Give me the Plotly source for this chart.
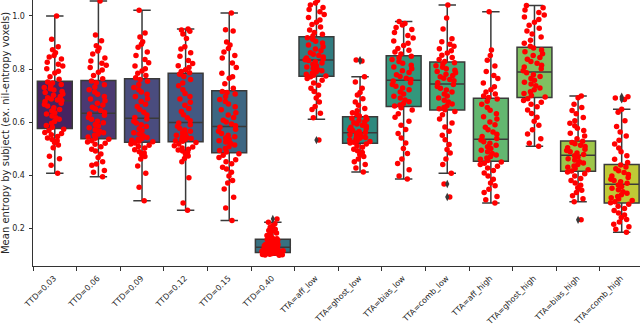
import colorsys
import plotly.graph_objects as go

categories = ["TTD=0.03", "TTD=0.06", "TTD=0.09", "TTD=0.12", "TTD=0.15", "TTD=0.40",
              "TTA=aff_low", "TTA=ghost_low", "TTA=bias_low", "TTA=comb_low",
              "TTA=aff_high", "TTA=ghost_high", "TTA=bias_high", "TTA=comb_high"]

# box statistics
q1 = [0.577, 0.538, 0.525, 0.527, 0.485, 0.110, 0.773, 0.521, 0.659, 0.646, 0.453, 0.693, 0.416, 0.296]
median = [0.681, 0.634, 0.615, 0.599, 0.584, 0.130, 0.834, 0.561, 0.758, 0.744, 0.536, 0.789, 0.476, 0.367]
q3 = [0.754, 0.757, 0.764, 0.784, 0.719, 0.160, 0.922, 0.621, 0.850, 0.827, 0.690, 0.882, 0.530, 0.441]
lowerfence = [0.408, 0.395, 0.305, 0.269, 0.231, 0.100, 0.611, 0.413, 0.387, 0.408, 0.296, 0.510, 0.301, 0.186]
upperfence = [1.000, 1.056, 1.021, 0.951, 1.011, 0.224, 1.080, 0.771, 0.979, 1.041, 1.016, 1.039, 0.699, 0.649]

# per-subject values (red dots)
ttd_003 = [1.00, 0.912, 0.884, 0.873, 0.862, 0.851, 0.846, 0.838, 0.826, 0.818, 0.812, 0.801, 0.792, 0.785, 0.771, 0.762,
           0.752, 0.748, 0.742, 0.737, 0.731, 0.726, 0.721, 0.716, 0.712, 0.706, 0.702, 0.697, 0.692, 0.688, 0.684, 0.682,
           0.678, 0.672, 0.667, 0.661, 0.655, 0.648, 0.642, 0.636, 0.631, 0.624, 0.617, 0.611, 0.603, 0.596, 0.588, 0.581,
           0.574, 0.569, 0.562, 0.558, 0.553, 0.547, 0.541, 0.535, 0.531, 0.524, 0.515, 0.504, 0.472, 0.463, 0.438, 0.408]
ttd_006 = [1.056, 0.928, 0.907, 0.888, 0.879, 0.868, 0.857, 0.842, 0.831, 0.822, 0.815, 0.806, 0.797, 0.788, 0.776, 0.764,
           0.755, 0.749, 0.741, 0.733, 0.722, 0.714, 0.705, 0.697, 0.688, 0.681, 0.672, 0.665, 0.657, 0.651, 0.644, 0.637,
           0.631, 0.626, 0.618, 0.611, 0.604, 0.598, 0.592, 0.586, 0.579, 0.572, 0.566, 0.561, 0.556, 0.551, 0.545, 0.540,
           0.536, 0.531, 0.526, 0.521, 0.517, 0.508, 0.499, 0.492, 0.481, 0.468, 0.452, 0.443, 0.438, 0.419, 0.412, 0.395]
ttd_009 = [1.021, 0.936, 0.921, 0.903, 0.894, 0.882, 0.864, 0.851, 0.836, 0.824, 0.812, 0.801, 0.793, 0.784, 0.776, 0.768,
           0.761, 0.754, 0.742, 0.731, 0.722, 0.714, 0.705, 0.697, 0.689, 0.678, 0.668, 0.659, 0.648, 0.638, 0.627, 0.618,
           0.612, 0.604, 0.597, 0.591, 0.584, 0.576, 0.569, 0.561, 0.556, 0.549, 0.543, 0.538, 0.535, 0.532, 0.529, 0.527,
           0.522, 0.518, 0.514, 0.509, 0.503, 0.497, 0.489, 0.484, 0.478, 0.471, 0.462, 0.436, 0.408, 0.356, 0.305]
ttd_012 = [0.951, 0.947, 0.942, 0.932, 0.915, 0.884, 0.876, 0.862, 0.848, 0.832, 0.821, 0.813, 0.806, 0.798, 0.791, 0.786,
           0.781, 0.772, 0.761, 0.748, 0.737, 0.722, 0.708, 0.697, 0.688, 0.675, 0.664, 0.652, 0.641, 0.628, 0.617, 0.606,
           0.597, 0.591, 0.585, 0.578, 0.571, 0.566, 0.561, 0.555, 0.551, 0.547, 0.543, 0.539, 0.536, 0.533, 0.531, 0.529,
           0.524, 0.518, 0.512, 0.507, 0.503, 0.499, 0.496, 0.492, 0.487, 0.481, 0.473, 0.464, 0.452, 0.391, 0.296, 0.269]
ttd_015 = [1.011, 0.948, 0.943, 0.902, 0.891, 0.878, 0.864, 0.851, 0.842, 0.823, 0.806, 0.784, 0.771, 0.766, 0.745, 0.728,
           0.716, 0.712, 0.706, 0.697, 0.686, 0.678, 0.669, 0.658, 0.647, 0.636, 0.627, 0.618, 0.608, 0.601, 0.594, 0.587,
           0.581, 0.574, 0.566, 0.558, 0.551, 0.546, 0.541, 0.536, 0.531, 0.526, 0.521, 0.515, 0.508, 0.501, 0.494, 0.488,
           0.482, 0.476, 0.468, 0.459, 0.452, 0.444, 0.431, 0.424, 0.412, 0.398, 0.381, 0.372, 0.349, 0.318, 0.278, 0.231]
ttd_040 = [0.236, 0.224, 0.218, 0.212, 0.205, 0.198, 0.193, 0.189, 0.184, 0.179, 0.174, 0.169, 0.165, 0.162,
           0.159, 0.156, 0.153, 0.151, 0.148, 0.146, 0.144, 0.142, 0.140, 0.138, 0.136, 0.134, 0.132, 0.131,
           0.129, 0.128, 0.126, 0.125, 0.124, 0.122, 0.121, 0.120, 0.119, 0.118, 0.117, 0.116, 0.115, 0.113, 0.112, 0.111,
           0.109, 0.108, 0.107, 0.106, 0.105, 0.104, 0.103, 0.102, 0.101, 0.100]
tta_aff_low = [1.058, 1.049, 1.041, 1.032, 1.024, 1.016, 1.005, 0.994, 0.985, 0.976, 0.968, 0.958, 0.947, 0.938, 0.931, 0.925,
               0.918, 0.912, 0.905, 0.898, 0.891, 0.884, 0.876, 0.869, 0.862, 0.856, 0.851, 0.846, 0.842, 0.838, 0.835,
               0.832, 0.828, 0.823, 0.818, 0.813, 0.808, 0.803, 0.798, 0.794, 0.789, 0.785, 0.781, 0.777, 0.774,
               0.771, 0.765, 0.758, 0.748, 0.739, 0.728, 0.716, 0.703, 0.691, 0.676, 0.659, 0.648, 0.634, 0.617, 0.533]
tta_ghost_low = [0.834, 0.831, 0.771, 0.752, 0.728, 0.712, 0.703, 0.689, 0.676, 0.664, 0.652, 0.643, 0.636, 0.629, 0.624,
                 0.619, 0.615, 0.611, 0.607, 0.602, 0.598, 0.594, 0.589, 0.585, 0.581, 0.577, 0.573, 0.569, 0.565, 0.562,
                 0.559, 0.556, 0.553, 0.549, 0.546, 0.543, 0.540, 0.537, 0.534, 0.531, 0.528, 0.525, 0.522,
                 0.518, 0.512, 0.506, 0.499, 0.493, 0.486, 0.479, 0.471, 0.462, 0.452, 0.441, 0.428, 0.413]
tta_bias_low = [0.979, 0.972, 0.966, 0.957, 0.949, 0.938, 0.926, 0.917, 0.906, 0.897, 0.889, 0.878, 0.871, 0.864, 0.857,
                0.848, 0.843, 0.836, 0.829, 0.822, 0.815, 0.808, 0.801, 0.794, 0.787, 0.779, 0.772, 0.766, 0.761,
                0.755, 0.749, 0.742, 0.736, 0.729, 0.722, 0.714, 0.706, 0.698, 0.691, 0.684, 0.677, 0.671, 0.665, 0.661,
                0.655, 0.646, 0.632, 0.619, 0.604, 0.589, 0.573, 0.558, 0.541, 0.522, 0.501, 0.483, 0.462, 0.445, 0.421, 0.398, 0.387]
tta_comb_low = [1.041, 0.992, 0.951, 0.914, 0.903, 0.894, 0.886, 0.877, 0.869, 0.861, 0.852, 0.844, 0.836, 0.829,
                0.824, 0.819, 0.813, 0.807, 0.801, 0.796, 0.791, 0.786, 0.781, 0.776, 0.771, 0.766, 0.761, 0.756, 0.749,
                0.742, 0.735, 0.728, 0.721, 0.714, 0.706, 0.699, 0.691, 0.683, 0.676, 0.669, 0.662, 0.656, 0.651, 0.647,
                0.641, 0.628, 0.612, 0.597, 0.582, 0.566, 0.551, 0.534, 0.516, 0.498, 0.484, 0.462, 0.441, 0.408, 0.368, 0.319]
tta_aff_high = [1.016, 0.872, 0.851, 0.833, 0.812, 0.791, 0.776, 0.765, 0.748, 0.734, 0.722, 0.714, 0.706, 0.699, 0.693,
                0.688, 0.679, 0.668, 0.656, 0.645, 0.632, 0.621, 0.612, 0.601, 0.591, 0.581, 0.572, 0.563, 0.555, 0.547, 0.539,
                0.533, 0.527, 0.521, 0.514, 0.508, 0.501, 0.495, 0.489, 0.483, 0.477, 0.471, 0.466, 0.461, 0.456,
                0.451, 0.446, 0.441, 0.435, 0.428, 0.419, 0.409, 0.398, 0.386, 0.372, 0.361, 0.348, 0.336, 0.321, 0.309, 0.296]
tta_ghost_high = [1.039, 1.031, 1.022, 1.013, 1.004, 0.996, 0.987, 0.976, 0.965, 0.954, 0.943, 0.932, 0.921, 0.909, 0.897, 0.886,
                  0.879, 0.872, 0.865, 0.858, 0.851, 0.844, 0.837, 0.829, 0.822, 0.815, 0.808, 0.801, 0.794,
                  0.786, 0.779, 0.772, 0.765, 0.758, 0.751, 0.744, 0.737, 0.729, 0.722, 0.715, 0.708, 0.701, 0.695,
                  0.689, 0.682, 0.675, 0.668, 0.658, 0.646, 0.633, 0.619, 0.604, 0.589, 0.572, 0.556, 0.538, 0.521, 0.510]
tta_bias_high = [0.699, 0.692, 0.668, 0.656, 0.644, 0.632, 0.618, 0.606, 0.596, 0.587, 0.578, 0.569, 0.559, 0.548, 0.538,
                 0.529, 0.524, 0.519, 0.514, 0.509, 0.504, 0.499, 0.494, 0.489, 0.484, 0.479,
                 0.474, 0.469, 0.463, 0.458, 0.452, 0.447, 0.441, 0.436, 0.431, 0.426, 0.421, 0.417,
                 0.413, 0.406, 0.398, 0.389, 0.381, 0.372, 0.363, 0.354, 0.344, 0.336, 0.324, 0.312, 0.301, 0.233]
tta_comb_high = [0.696, 0.691, 0.686, 0.649, 0.638, 0.606, 0.584, 0.563, 0.548, 0.532, 0.518, 0.503, 0.489, 0.474, 0.461, 0.449,
                 0.439, 0.432, 0.425, 0.418, 0.411, 0.404, 0.398, 0.392, 0.386, 0.381, 0.376, 0.371,
                 0.364, 0.358, 0.352, 0.346, 0.339, 0.333, 0.327, 0.321, 0.316, 0.311, 0.306, 0.301, 0.297,
                 0.292, 0.284, 0.276, 0.268, 0.259, 0.251, 0.242, 0.234, 0.225, 0.216, 0.207, 0.198, 0.186]

points = [ttd_003, ttd_006, ttd_009, ttd_012, ttd_015, ttd_040,
          tta_aff_low, tta_ghost_low, tta_bias_low, tta_comb_low,
          tta_aff_high, tta_ghost_high, tta_bias_high, tta_comb_high]

y_ticks = [0.2, 0.4, 0.6, 0.8, 1.0]

# ---- styles ----
viridis_base = ["#47196a", "#472f7c", "#414487", "#39568c", "#31688e", "#2a788e", "#24888d",
                "#1f988a", "#22a884", "#36b878", "#55c567", "#7ad151", "#a6db35", "#d4e21d"]


def desaturate(hexcol, prop=0.75):
    r, g, b = (int(hexcol[i:i + 2], 16) / 255 for i in (1, 3, 5))
    h, l, s = colorsys.rgb_to_hls(r, g, b)
    r, g, b = colorsys.hls_to_rgb(h, l, s * prop)
    return "rgb(%d,%d,%d)" % (round(r * 255), round(g * 255), round(b * 255))


fills = [desaturate(c) for c in viridis_base]
line_gray = "#3a3a3a"
font_family = "DejaVu Sans, Liberation Sans, sans-serif"

fig = go.Figure()

for i, cat in enumerate(categories):
    fig.add_trace(go.Box(
        x=[i], q1=[q1[i]], median=[median[i]], q3=[q3[i]],
        lowerfence=[lowerfence[i]], upperfence=[upperfence[i]],
        width=0.8, whiskerwidth=0.5, boxpoints=False,
        fillcolor=fills[i], line=dict(color=line_gray, width=1.5),
        name=cat, showlegend=False, hoverinfo="skip",
    ))

# outliers (fliers) as thin diamonds
for i, cat in enumerate(categories):
    outs = [v for v in points[i] if v < lowerfence[i] or v > upperfence[i]]
    if outs:
        fig.add_trace(go.Scatter(
            x=[i] * len(outs), y=outs, mode="markers",
            marker=dict(symbol="diamond-tall", size=6, color=line_gray),
            showlegend=False, hoverinfo="skip",
        ))

# strip of individual subjects (red dots)
for i, cat in enumerate(categories):
    fig.add_trace(go.Box(
        x=[i] * len(points[i]), y=points[i],
        boxpoints="all", jitter=0.7, pointpos=0, width=0.8,
        fillcolor="rgba(0,0,0,0)", line=dict(width=0, color="rgba(0,0,0,0)"),
        marker=dict(color="red", size=5.5, line=dict(width=0)),
        showlegend=False, hoverinfo="skip",
    ))

tick_pos = [i - 0.5 for i in range(len(categories))]

fig.update_layout(
    width=640, height=326,
    margin=dict(l=33, r=0, t=0, b=60, autoexpand=False),
    paper_bgcolor="white", plot_bgcolor="white",
    boxmode="overlay",
    font=dict(family=font_family, size=8, color="#262626"),
    xaxis=dict(
        range=[-0.5, 13.42], tickvals=tick_pos, ticktext=categories,
        tickangle=-45, ticklabelshift=21, ticklabelstandoff=0,
        tickfont=dict(size=8, color="#262626"),
        ticks="outside", ticklen=3.5, tickwidth=1, tickcolor="#333333",
        showline=True, linecolor="#333333", linewidth=1,
        showgrid=False, zeroline=False, automargin=False,
    ),
    yaxis=dict(
        range=[0.0594, 1.060], tickvals=y_ticks, tickformat=".1f",
        ticks="outside", ticklen=3.5, tickwidth=1, tickcolor="#333333",
        tickfont=dict(size=8, color="#262626"), ticklabelstandoff=2,
        showline=True, linecolor="#333333", linewidth=1,
        showgrid=False, zeroline=False, automargin=False,
        title=dict(text="Mean entropy by subject (ex. nil-entropy voxels)",
                   font=dict(size=10, color="#262626"), standoff=12),
    ),
)

fig.write_html("out.html", config={"displayModeBar": False},
               post_script="document.body.style.margin='0px';")
